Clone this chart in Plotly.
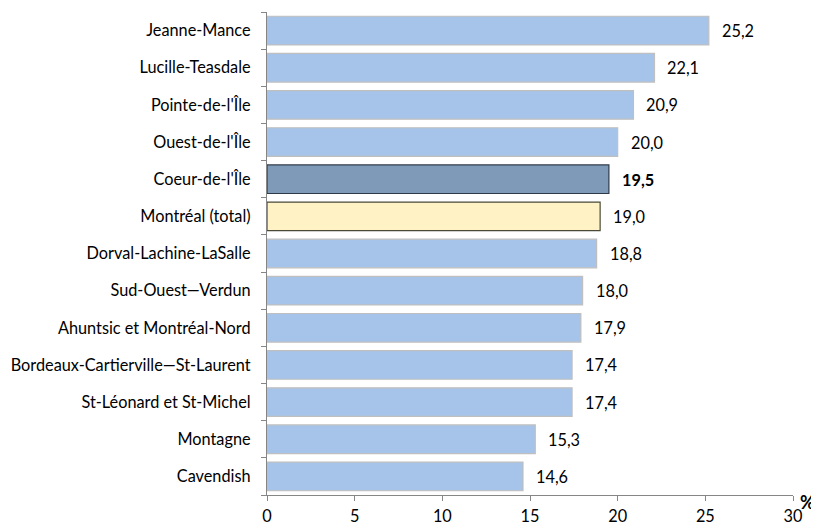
import plotly.graph_objects as go

categories = ["Jeanne-Mance", "Lucille-Teasdale", "Pointe-de-l'Île", "Ouest-de-l'Île",
              "Coeur-de-l'Île", "Montréal (total)", "Dorval-Lachine-LaSalle",
              "Sud-Ouest—Verdun", "Ahuntsic et Montréal-Nord",
              "Bordeaux-Cartierville—St-Laurent", "St-Léonard et St-Michel",
              "Montagne", "Cavendish"]
values = [25.2, 22.1, 20.9, 20.0, 19.5, 19.0, 18.8, 18.0, 17.9, 17.4, 17.4, 15.3, 14.6]
x_ticks = [0, 5, 10, 15, 20, 25, 30]

fill_colors = []
line_colors = []
for c in categories:
    if c == "Coeur-de-l'Île":
        fill_colors.append("#7F9AB9"); line_colors.append("#2E3A48")
    elif c == "Montréal (total)":
        fill_colors.append("#FFF2C4"); line_colors.append("#4A4A3A")
    else:
        fill_colors.append("#A6C4EA"); line_colors.append("#BFBFBF")

fig = go.Figure(go.Bar(
    x=values, y=categories, orientation="h",
    marker=dict(color=fill_colors, line=dict(color=line_colors, width=1.2)),
    hoverinfo="skip",
))

FONT = "Lato"
FS = 16.3
for c, v in zip(categories, values):
    txt = f"{v:.1f}".replace(".", ",")
    if c == "Coeur-de-l'Île":
        txt = f"<b>{txt}</b>"
    fig.add_annotation(x=v, y=c, text=txt, showarrow=False, xanchor="left",
                       xshift=11, font=dict(size=FS, color="#000000", family=FONT))

fig.add_annotation(x=1, y=0, xref="paper", yref="paper", text="<b>%</b>", showarrow=False,
                   xanchor="left", yanchor="middle", xshift=5, yshift=-7,
                   font=dict(size=18, color="#000000", family=FONT))

fig.update_layout(
    width=811, height=516,
    margin=dict(l=259, r=26, t=4, b=29),
    paper_bgcolor="white", plot_bgcolor="white",
    bargap=0.23, showlegend=False,
    font=dict(family=FONT, size=FS, color="#000000"),
)
fig.update_xaxes(range=[0, 30], tickvals=x_ticks, ticktext=[str(t) for t in x_ticks],
                 showgrid=False, zeroline=False, showline=True, linecolor="#868686",
                 linewidth=1.3, ticks="outside", ticklen=5, tickcolor="#868686",
                 tickfont=dict(size=FS, family=FONT), ticklabelstandoff=1,
                 automargin=False)
fig.update_yaxes(categoryorder="array", categoryarray=categories[::-1],
                 showgrid=False, showline=True, linecolor="#868686", linewidth=1.3,
                 ticks="outside", ticklen=5, tickcolor="#868686", tickson="boundaries",
                 tickfont=dict(size=FS, family=FONT), ticklabelstandoff=12,
                 automargin=False)

fig.write_html("out.html")
